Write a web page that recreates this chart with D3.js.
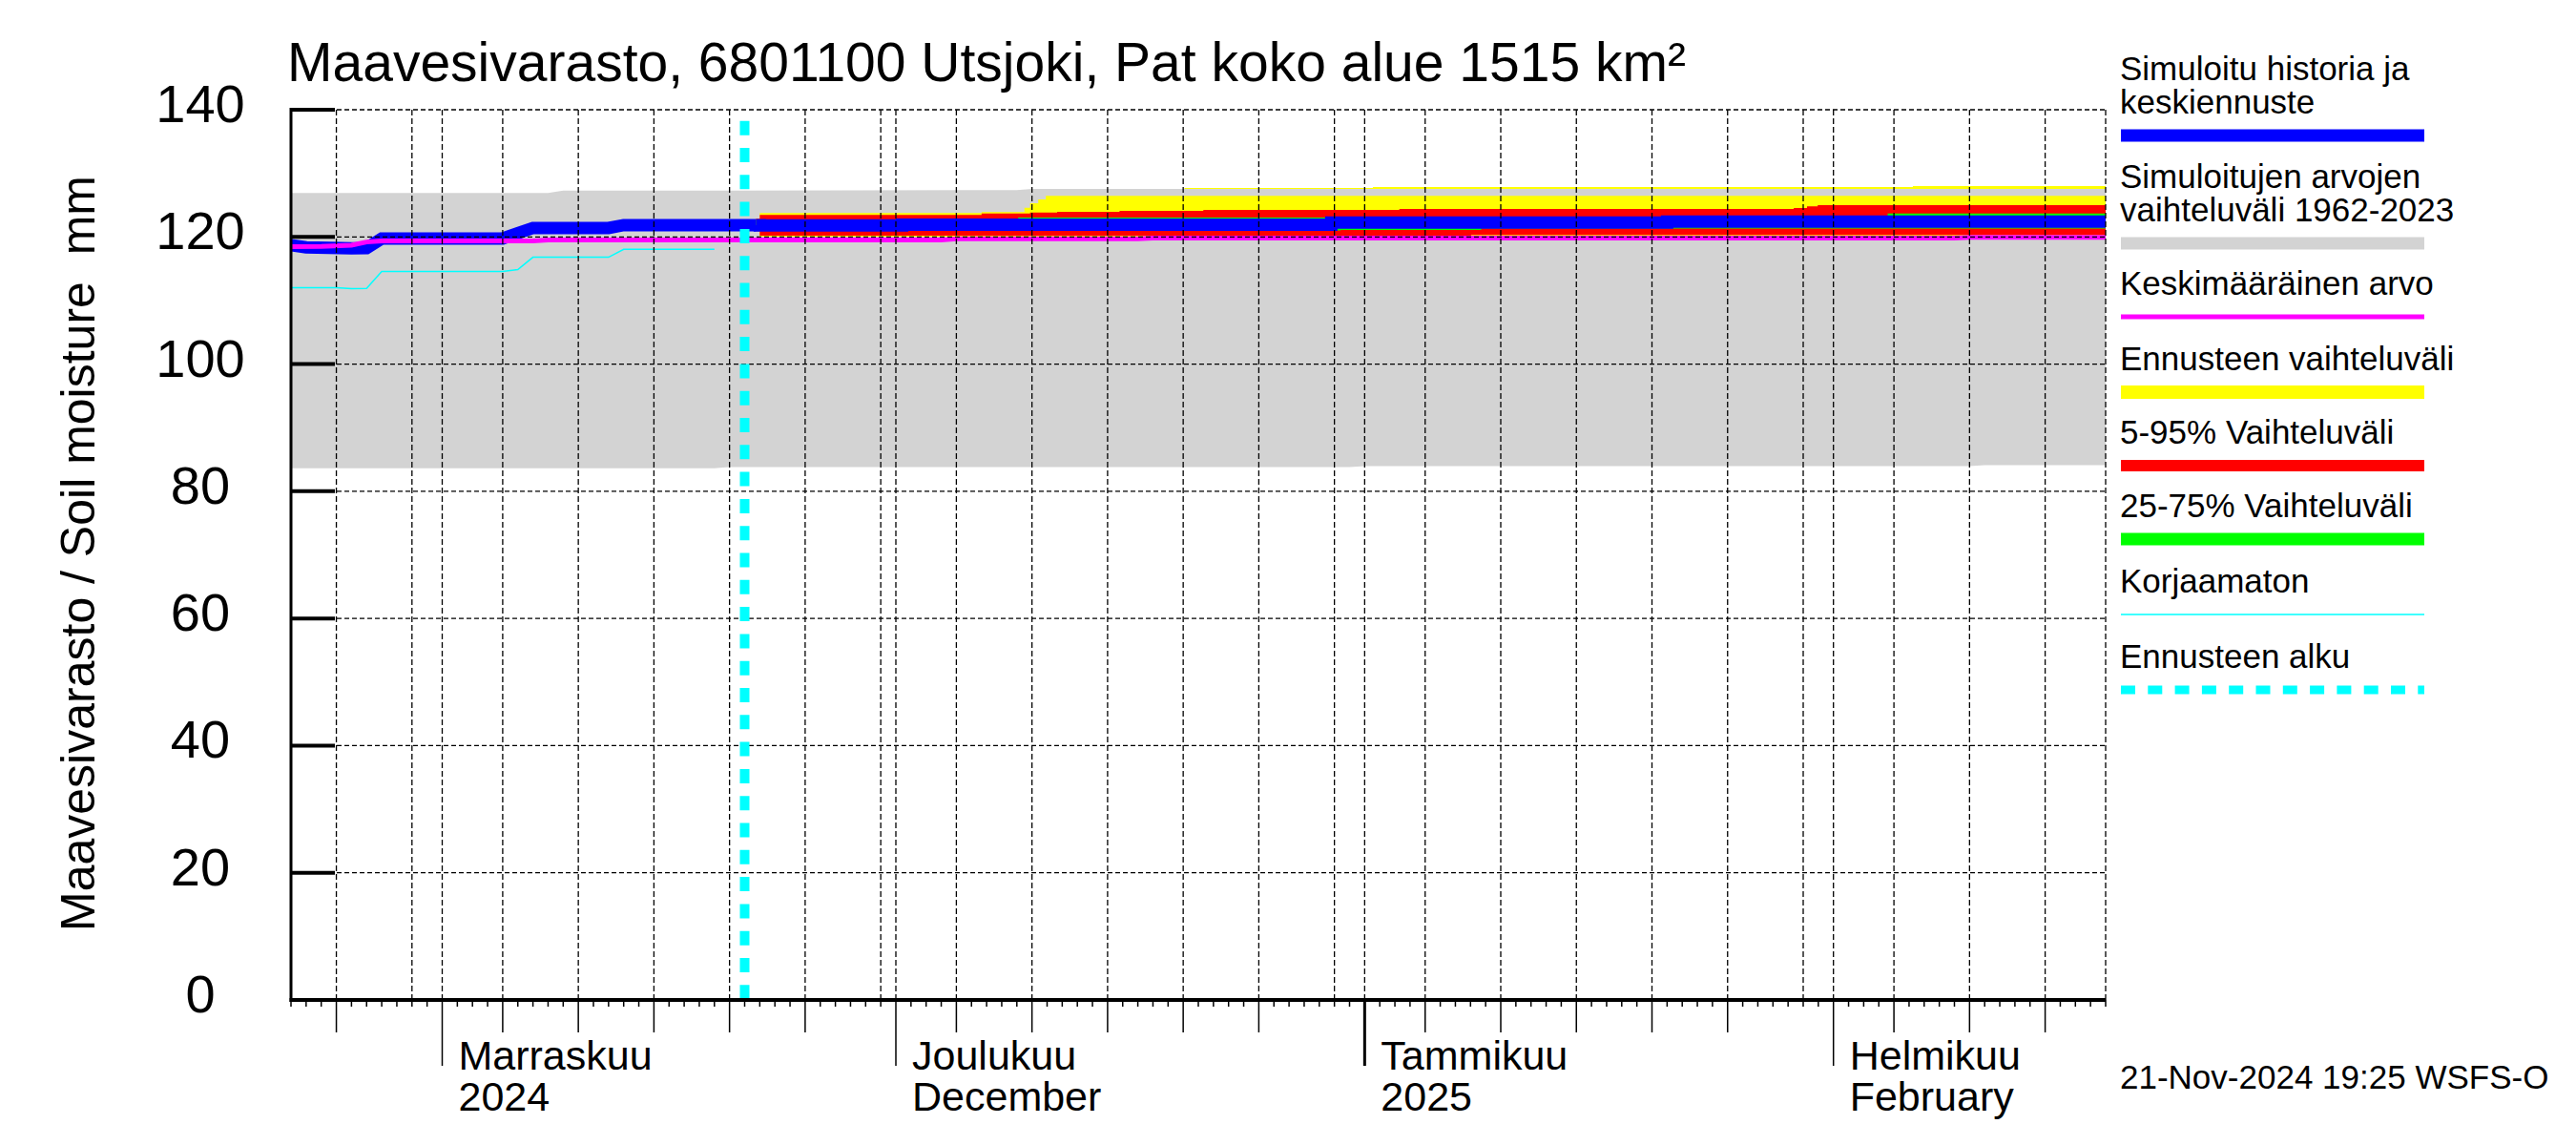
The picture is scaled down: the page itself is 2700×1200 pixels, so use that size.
<!DOCTYPE html>
<html>
<head>
<meta charset="utf-8">
<script src="https://cdn.jsdelivr.net/npm/d3@7"></script>
<style>
  body { margin: 0; background: #fff; }
  svg text { font-family: "Liberation Sans", Arial, Helvetica, sans-serif; fill: #000; }
</style>
</head>
<body>
<svg id="chart" width="2700" height="1200"></svg>
<script>
// ---- data ----
const yTicks = [0, 20, 40, 60, 80, 100, 120, 140];

// historic range 1962-2023 (grey)
const histRangeDates = ['2024-10-22', '2024-11-08', '2024-11-09', '2024-11-19', '2024-11-20', '2024-12-09',
  '2024-12-10', '2024-12-31', '2025-01-01', '2025-02-10', '2025-02-11', '2025-02-19'];
const histRangeMax = [126.9, 126.9, 127.3, 127.3, 127.3, 127.35, 127.55, 127.55, 127.55, 127.55, 127.55, 127.55];
const histRangeMin = [83.6, 83.6, 83.6, 83.6, 83.8, 83.8, 83.8, 83.8, 83.95, 83.95, 84.1, 84.1];

// simulated history (blue, up to forecast start)
const simDates = ['2024-10-22', '2024-10-23', '2024-10-26', '2024-10-27', '2024-10-28', '2024-11-05',
  '2024-11-06', '2024-11-07', '2024-11-12', '2024-11-13', '2024-11-21T18:00'];
const simValues = [118.7, 118.35, 118.2, 118.25, 119.75, 119.75, 120.6, 121.4, 121.4, 121.85, 121.85];

// uncorrected (cyan)
const rawDates = ['2024-10-22', '2024-10-25', '2024-10-26', '2024-10-27', '2024-10-28', '2024-11-05',
  '2024-11-06', '2024-11-07', '2024-11-12', '2024-11-13', '2024-11-19'];
const rawValues = [112.0, 112.0, 111.85, 111.9, 114.55, 114.55, 114.85, 116.8, 116.8, 118.05, 118.05];

// mean value (magenta)
const meanDates = ['2024-10-22', '2024-10-24', '2024-10-26', '2024-10-27', '2024-10-28', '2024-11-07',
  '2024-11-08', '2024-12-04', '2024-12-05', '2024-12-17', '2024-12-18', '2025-02-09', '2025-02-10', '2025-02-19'];
const meanValues = [118.45, 118.5, 118.7, 119.2, 119.35, 119.35, 119.5, 119.5, 119.7, 119.7, 119.8, 119.8, 119.92, 119.92];

// forecast (step values from each date on)
const fcDates = ['2024-11-21T18:00', '2024-11-22T00:00', '2024-12-01T10:00', '2024-12-06T16:00',
  '2024-12-09T02:00', '2024-12-09T12:00', '2024-12-09T21:00', '2024-12-10T10:00', '2024-12-10T22:00',
  '2024-12-11T16:00', '2024-12-15T19:00', '2024-12-17T01:00', '2024-12-20T02:00', '2024-12-21T08:00',
  '2024-12-29T19:00', '2024-12-30T10:00', '2025-01-01T13:00', '2025-01-03T07:00', '2025-01-08T01:00',
  '2025-01-08T17:00', '2025-01-21T00:00', '2025-01-29T09:00', '2025-01-30T06:00', '2025-01-30T23:00',
  '2025-02-04T14:00', '2025-02-06T06:00', '2025-02-09T10:00', '2025-02-19T00:00'];
const fcMedian = [121.85, 121.8, 121.9, 121.9, 121.9, 121.9, 121.9, 121.9, 121.9, 121.9, 121.9, 121.9, 121.9, 121.9,
  122.25, 122.25, 122.25, 122.25, 122.25, 122.25, 122.4, 122.4, 122.4, 122.4, 122.4, 122.4, 122.4, 122.4];
const fcMin = [120.9, 120.05, 120.05, 120.05, 120.05, 120.05, 120.05, 120.05, 120.05, 120.05, 120.05, 119.9, 119.9, 119.9,
  119.9, 119.9, 119.9, 119.9, 120.1, 120.1, 120.1, 120.1, 120.1, 120.1, 120.1, 120.1, 119.9, 119.9];
const fcMax = [122.85, 123.75, 123.75, 123.9, 123.9, 124.6, 125.3, 125.9, 126.45, 126.45, 126.45, 126.45, 126.45, 126.45,
  126.45, 126.45, 126.45, 126.45, 126.45, 126.45, 126.45, 126.45, 126.45, 126.45, 126.45, 126.45, 126.45, 126.45];
const fcTopLo = [null, null, null, null, null, null, null, null, null, null, null, null, 127.55, 127.55,
  127.55, 127.55, 127.55, 127.55, 127.55, 127.55, 127.55, 127.55, 127.55, 127.55, 127.55, 127.55, 127.55, 127.55];
const fcTopHi = [null, null, null, null, null, null, null, null, null, null, null, null, 127.7, 127.7,
  127.7, 127.7, 127.85, 127.85, 127.85, 127.85, 127.85, 127.85, 127.85, 127.85, 127.85, 128.0, 128.0, 128.0];
const fcP05 = [120.9, 120.2, 120.2, 120.2, 120.2, 120.2, 120.2, 120.2, 120.2, 120.2, 120.2, 120.2, 120.2, 120.2,
  120.2, 120.2, 120.2, 120.2, 120.3, 120.3, 120.3, 120.3, 120.3, 120.3, 120.3, 120.3, 120.3, 120.3];
const fcP95 = [122.85, 123.45, 123.45, 123.7, 123.7, 123.7, 123.85, 123.85, 123.85, 123.95, 124.1, 124.1, 124.1, 124.25,
  124.25, 124.25, 124.25, 124.4, 124.4, 124.4, 124.4, 124.55, 124.8, 125.0, 125.0, 125.0, 125.0, 125.0];
const fcP25 = [121.0, 121.0, 121.0, 121.0, 121.0, 121.0, 121.0, 121.0, 121.0, 121.0, 121.0, 121.0, 121.0, 121.0,
  121.0, 121.1, 121.1, 121.1, 121.1, 121.3, 121.3, 121.3, 121.3, 121.3, 121.3, 121.3, 121.3, 121.3];
const fcP75 = [122.7, 122.7, 122.7, 122.7, 123.05, 123.05, 123.05, 123.05, 123.05, 123.05, 123.05, 123.05, 123.05, 123.05,
  123.15, 123.2, 123.2, 123.2, 123.2, 123.2, 123.2, 123.2, 123.2, 123.2, 123.7, 123.7, 123.7, 123.7];

const forecastStart = '2024-11-21';
const domainDates = ['2024-10-22', '2025-02-19'];

const monthStarts = ['2024-11-01', '2024-12-01', '2025-01-01', '2025-02-01'];
const monthNames = ['Marraskuu', 'Joulukuu', 'Tammikuu', 'Helmikuu'];
const monthSub = ['2024', 'December', '2025', 'February'];

const legendItems = [
  { lines: ['Simuloitu historia ja', 'keskiennuste'], color: '#0000ff', kind: 'bar', h: 13 },
  { lines: ['Simuloitujen arvojen', 'vaihteluväli 1962-2023'], color: '#d3d3d3', kind: 'bar', h: 13 },
  { lines: ['Keskimääräinen arvo'], color: '#ff00ff', kind: 'bar', h: 5 },
  { lines: ['Ennusteen vaihteluväli'], color: '#ffff00', kind: 'bar', h: 14 },
  { lines: ['5-95% Vaihteluväli'], color: '#ff0000', kind: 'bar', h: 12 },
  { lines: ['25-75% Vaihteluväli'], color: '#00ff00', kind: 'bar', h: 13 },
  { lines: ['Korjaamaton'], color: '#00ffff', kind: 'bar', h: 1.5 },
  { lines: ['Ennusteen alku'], color: '#00ffff', kind: 'dash', h: 9 },
];

// ---- drawing ----
const parse = (s) => new Date(s.length === 10 ? s + 'T00:00:00' : s + ':00');

const svg = d3.select('#chart');
svg.append('rect').attr('width', 2700).attr('height', 1200).attr('fill', '#fff');

const plot = { left: 305, right: 2207, top: 115, bottom: 1048 };

const x = d3.scaleTime().domain(domainDates.map(parse)).range([plot.left, plot.right]);
const y = d3.scaleLinear().domain([0, 140]).range([plot.bottom, plot.top]);

svg.append('clipPath').attr('id', 'clip')
  .append('rect')
  .attr('x', plot.left).attr('y', plot.top)
  .attr('width', plot.right - plot.left).attr('height', plot.bottom - plot.top);

const data = svg.append('g').attr('clip-path', 'url(#clip)');

function band(dates, lo, hi, color, curve) {
  const pts = dates.map((d, i) => ({ t: parse(d), lo: lo[i], hi: hi[i] }));
  const area = d3.area()
    .defined((d) => d.lo != null && d.hi != null)
    .curve(curve)
    .x((d) => x(d.t))
    .y0((d) => y(d.lo))
    .y1((d) => y(d.hi));
  data.append('path').datum(pts).attr('d', area).attr('fill', color);
}

function line(dates, values, color, width, curve) {
  const pts = dates.map((d, i) => ({ t: parse(d), v: values[i] }));
  const gen = d3.line().curve(curve).x((d) => x(d.t)).y((d) => y(d.v));
  data.append('path').datum(pts).attr('d', gen)
    .attr('fill', 'none').attr('stroke', color).attr('stroke-width', width);
}

band(histRangeDates, histRangeMin, histRangeMax, '#d3d3d3', d3.curveLinear);
band(fcDates, fcMin, fcMax, '#ffff00', d3.curveStepAfter);
band(fcDates, fcTopLo, fcTopHi, '#ffff00', d3.curveStepAfter);
band(fcDates, fcP05, fcP95, '#ff0000', d3.curveStepAfter);
band(fcDates, fcP25, fcP75, '#00ff00', d3.curveStepAfter);
line(simDates, simValues, '#0000ff', 13, d3.curveLinear);
line(fcDates, fcMedian, '#0000ff', 13, d3.curveStepAfter);
line(meanDates, meanValues, '#ff00ff', 5, d3.curveLinear);
line(rawDates, rawValues, '#00ffff', 1.5, d3.curveLinear);

// grid
const grid = svg.append('g');
grid.selectAll('line.h')
  .data(yTicks.filter((v) => v > 0))
  .join('line')
  .attr('x1', plot.left).attr('x2', plot.right)
  .attr('y1', (d) => y(d)).attr('y2', (d) => y(d))
  .attr('stroke', '#000').attr('stroke-width', 1.3).attr('stroke-dasharray', '5,3');

const days = d3.timeDay.range(x.domain()[0], d3.timeDay.offset(x.domain()[1], 1));
const gridDays = days.filter((d) => [1, 5, 10, 15, 20, 25, 30].includes(d.getDate()) && +d !== +x.domain()[0]);
grid.selectAll('line.v')
  .data(gridDays.concat([x.domain()[1]]))
  .join('line')
  .attr('x1', (d) => x(d)).attr('x2', (d) => x(d))
  .attr('y1', plot.top).attr('y2', plot.bottom)
  .attr('stroke', '#000').attr('stroke-width', 1.3).attr('stroke-dasharray', '6,3');

// forecast start
svg.append('line')
  .attr('x1', x(parse(forecastStart))).attr('x2', x(parse(forecastStart)))
  .attr('y1', plot.top).attr('y2', plot.bottom)
  .attr('stroke', '#00ffff').attr('stroke-width', 10)
  .attr('stroke-dasharray', '15,13.3').attr('stroke-dashoffset', 16.6);

// axes
const axes = svg.append('g').attr('stroke', '#000');
axes.append('line')
  .attr('x1', plot.left).attr('x2', plot.left)
  .attr('y1', plot.top - 2).attr('y2', plot.bottom + 2)
  .attr('stroke-width', 3);
axes.append('line')
  .attr('x1', plot.left - 1.5).attr('x2', plot.right)
  .attr('y1', plot.bottom).attr('y2', plot.bottom)
  .attr('stroke-width', 4);

axes.selectAll('line.yt')
  .data(yTicks)
  .join('line')
  .attr('x1', plot.left).attr('x2', plot.left + 46)
  .attr('y1', (d) => y(d)).attr('y2', (d) => y(d))
  .attr('stroke-width', 4);

svg.append('g').selectAll('text')
  .data(yTicks)
  .join('text')
  .attr('x', 210).attr('y', (d) => y(d) + 13)
  .attr('text-anchor', 'middle')
  .attr('font-size', 56)
  .text((d) => d);

axes.selectAll('line.xt')
  .data(days)
  .join('line')
  .attr('x1', (d) => x(d)).attr('x2', (d) => x(d))
  .attr('y1', plot.bottom)
  .attr('y2', (d) => {
    if (d.getDate() === 1) return plot.bottom + 69;
    if ([5, 10, 15, 20, 25].includes(d.getDate())) return plot.bottom + 34;
    return plot.bottom + 7;
  })
  .attr('stroke-width', (d) => (d.getDate() === 1 && d.getMonth() === 0 ? 3 : 1.5));

const monthG = svg.append('g').attr('font-size', 43);
monthStarts.forEach((m, i) => {
  const mx = x(parse(m)) + 17;
  monthG.append('text').attr('x', mx).attr('y', 1121).text(monthNames[i]);
  monthG.append('text').attr('x', mx).attr('y', 1164).text(monthSub[i]);
});

// titles
svg.append('text')
  .attr('x', 301).attr('y', 85)
  .attr('font-size', 57)
  .text('Maavesivarasto, 6801100 Utsjoki, Pat koko alue 1515 km²');

svg.append('text')
  .attr('transform', 'translate(99,580) rotate(-90)')
  .attr('text-anchor', 'middle')
  .attr('font-size', 50)
  .attr('xml:space', 'preserve')
  .style('white-space', 'pre')
  .text('Maavesivarasto / Soil moisture  mm');

// legend
const legend = svg.append('g').attr('font-size', 35);
const legendBase = [84, 197, 309, 388, 465, 542, 621, 700];
const lineGap = 35;
legendItems.forEach((item, i) => {
  const base = legendBase[i];
  item.lines.forEach((t, j) => {
    legend.append('text').attr('x', 2222).attr('y', base + j * lineGap).text(t);
  });
  const last = base + (item.lines.length - 1) * lineGap;
  const cy = last + 23;
  if (item.kind === 'bar') {
    legend.append('rect')
      .attr('x', 2223).attr('y', cy - item.h / 2)
      .attr('width', 318).attr('height', item.h)
      .attr('fill', item.color);
  } else {
    legend.append('line')
      .attr('x1', 2223).attr('x2', 2541)
      .attr('y1', cy).attr('y2', cy)
      .attr('stroke', item.color).attr('stroke-width', item.h)
      .attr('stroke-dasharray', '15,13.3');
  }
});

svg.append('text')
  .attr('x', 2222).attr('y', 1141)
  .attr('font-size', 35)
  .text('21-Nov-2024 19:25 WSFS-O');
</script>
</body>
</html>
